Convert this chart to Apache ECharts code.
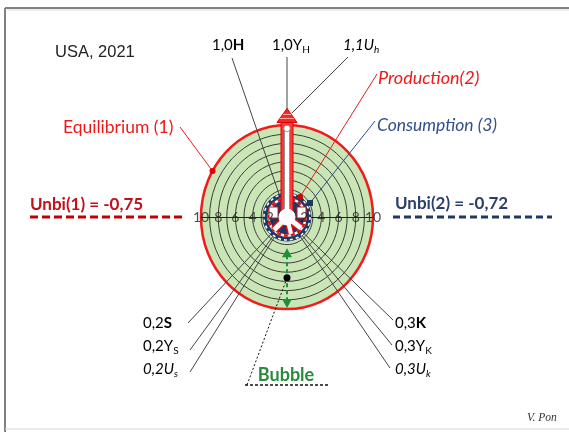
<!DOCTYPE html>
<html><head><meta charset="utf-8">
<script src="https://cdn.jsdelivr.net/npm/echarts@6/dist/echarts.min.js"></script>
<style>html,body{margin:0;padding:0;background:#fff}#c{width:569px;height:432px}</style>
</head><body><div id="c"></div>
<script>
// ---- data ----
const ringRadii = [1, 2, 3, 4, 5, 6, 7, 8, 9];
const equilibriumRadius = [10];
const axisTicks = [-10, -8, -6, -4, -2, 2, 4, 6, 8, 10];
const productionTip = [11.8];
const bubbleRange = [-3.4, -9.9];
const bubblePoint = [-6.6];
const equilibriumAngle = 150;
const unbiValues = ['-0,75', '-0,72'];
const title = 'USA, 2021';

const chart = echarts.init(document.getElementById('c'), null, {renderer: 'canvas'});
const LF = 'Lato, "Noto Sans", sans-serif';

function ell(r, api, style) {
  const c = api.coord([0, 0]);
  const s = api.size([r, r]);
  return {type: 'ellipse', shape: {cx: c[0], cy: c[1], rx: s[0], ry: s[1]}, style: style};
}

chart.setOption({
  animation: false,
  grid: {left: 201, top: 125, width: 172, height: 184},
  xAxis: {type: 'value', min: -10, max: 10, interval: 2, z: 1,
    axisLine: {show: true, onZero: true, lineStyle: {color: '#222', width: 1}},
    axisTick: {show: false}, axisLabel: {show: false}, splitLine: {show: false}},
  yAxis: {type: 'value', min: -10, max: 10, show: false, splitLine: {show: false}},
  series: [
    {type: 'custom', coordinateSystem: 'cartesian2d', z: 0, silent: true, clip: false,
      data: equilibriumRadius.map(r => [r, 0]),
      renderItem: (p, api) => ell(api.value(0), api, {fill: '#cbe6b6', stroke: '#f21a1a', lineWidth: 2.5})},
    {type: 'custom', coordinateSystem: 'cartesian2d', z: 0, silent: true, clip: false,
      data: ringRadii.map(r => [r, 0]),
      renderItem: (p, api) => ell(api.value(0), api, {fill: null, stroke: '#3b3b3b', lineWidth: 1})},
    // bubble arrow
    {type: 'custom', coordinateSystem: 'cartesian2d', z: 6, silent: true, clip: false,
      data: [[0, bubbleRange[0], bubbleRange[1], bubblePoint[0]]],
      renderItem: (p, api) => {
        const a = api.coord([0, api.value(1)]);
        const b = api.coord([0, api.value(2)]);
        const d = api.coord([0, api.value(3)]);
        const g = '#1f8f3a';
        return {type: 'group', children: [
          {type: 'line', shape: {x1: a[0], y1: a[1] + 7, x2: b[0], y2: b[1] - 7}, style: {stroke: g, lineWidth: 2, lineDash: [4, 3]}},
          {type: 'polygon', shape: {points: [[a[0], a[1]], [a[0] - 5, a[1] + 9], [a[0] + 5, a[1] + 9]]}, style: {fill: g}},
          {type: 'polygon', shape: {points: [[b[0], b[1]], [b[0] - 5, b[1] - 9], [b[0] + 5, b[1] - 9]]}, style: {fill: g}},
          {type: 'circle', shape: {cx: d[0], cy: d[1], r: 3.5}, style: {fill: '#000'}}
        ]};
      }},
    // production arrow
    {type: 'custom', coordinateSystem: 'cartesian2d', z: 12, silent: true, clip: false,
      data: productionTip.map(v => [0, v]),
      renderItem: (p, api) => {
        const c = api.coord([0, 0]);
        const t = api.coord([0, api.value(1)]);
        const base = t[1] + 14;
        return {type: 'group', children: [
          {type: 'rect', shape: {x: c[0] - 6, y: base, width: 12, height: c[1] - base}, style: {fill: '#f23c3c', stroke: '#e00000', lineWidth: 1}},
          {type: 'polygon', shape: {points: [[c[0] - 10, base], [c[0] + 10, base], [c[0], t[1]]]}, style: {fill: '#f02828', stroke: '#e00000', lineWidth: 1}},
          {type: 'line', shape: {x1: c[0] - 7, y1: base - 4, x2: c[0] + 7, y2: base - 4}, style: {stroke: '#ffb0b0', lineWidth: 1}},
          {type: 'line', shape: {x1: c[0] - 4, y1: base - 8, x2: c[0] + 4, y2: base - 8}, style: {stroke: '#ffb0b0', lineWidth: 1}},
          {type: 'rect', shape: {x: c[0] - 2.5, y: base + 6, width: 5, height: c[1] - base - 6}, style: {fill: '#fff', stroke: '#888', lineWidth: 0.8}},
          {type: 'circle', shape: {cx: c[0], cy: base + 6, r: 3.2}, style: {fill: '#fff', stroke: '#888', lineWidth: 0.8}},
          {type: 'circle', shape: {cx: c[0], cy: c[1], r: 8}, style: {fill: '#fff', stroke: '#fff'}}
        ]};
      }},
    // tick labels
    {type: 'scatter', z: 20, silent: true, symbolSize: 0,
      data: axisTicks.map(v => [v, 0]),
      label: {show: true, position: 'inside', formatter: p => String(Math.abs(p.value[0])),
        fontSize: 14, fontFamily: LF, color: '#222'}}
  ]
});

const c = chart.convertToPixel({gridIndex: 0}, [0, 0]);
const cx = c[0], cy = c[1];
const eq = chart.convertToPixel({gridIndex: 0}, [10 * Math.cos(equilibriumAngle * Math.PI / 180), 10 * Math.sin(equilibriumAngle * Math.PI / 180)]);

const rich = {
  n: {fontSize: 15, fontFamily: LF, color: '#222', lineHeight: 20},
  b: {fontSize: 15, fontFamily: LF, color: '#222', fontWeight: 'bold', lineHeight: 20},
  i: {fontSize: 15, fontFamily: LF, color: '#222', fontStyle: 'italic', lineHeight: 20},
  s: {fontSize: 10, fontFamily: LF, color: '#222', verticalAlign: 'bottom', lineHeight: 10},
  si: {fontSize: 10, fontFamily: LF, color: '#222', fontStyle: 'italic', verticalAlign: 'bottom', lineHeight: 10}
};
function rt(x, y, text, align) {
  return {type: 'text', x: x, y: y, z: 30, silent: true,
    style: {text: text, rich: rich, align: align || 'left', verticalAlign: 'middle'}};
}
function tx(x, y, text, st) {
  return {type: 'text', x: x, y: y, z: 30, silent: true,
    style: Object.assign({text: text, fontFamily: LF, fontSize: 15, fill: '#222', verticalAlign: 'middle', align: 'left'}, st)};
}
function ln(x1, y1, x2, y2, st, z) {
  return {type: 'line', z: z || 5, silent: true, shape: {x1, y1, x2, y2},
    style: Object.assign({stroke: '#444', lineWidth: 1}, st)};
}
const navy = '#1f3864';
const gfx = [
  // frame
  ln(5, 8, 569, 8, {stroke: '#808080', lineWidth: 2}, 1),
  ln(5, 8, 5, 432, {stroke: '#808080', lineWidth: 2}, 1),
  ln(7, 10, 569, 10, {stroke: '#dddddd', lineWidth: 1}, 1),
  ln(5, 429, 569, 429, {stroke: '#d8d8d8', lineWidth: 1}, 1),
  // spokes
  ln(232, 58, cx, cy), ln(cx, 57, cx, cy), ln(348, 57, cx + 5, 113),
  ln(188, 323, cx, cy), ln(190, 350, cx, cy), ln(190, 372, cx, cy),
  ln(393, 320, cx, cy), ln(392, 345, cx, cy), ln(390, 368, cx, cy),
  // unbi dashed lines
  ln(30, cy, 186, cy, {stroke: '#c00000', lineWidth: 3, lineDash: [8, 4]}),
  ln(393, cy, 552, cy, {stroke: navy, lineWidth: 3, lineDash: [7, 4]}),
  // equilibrium leader
  ln(180, 127, eq[0], eq[1], {stroke: '#f21a1a', lineWidth: 1}, 7),
  {type: 'circle', z: 7, shape: {cx: eq[0], cy: eq[1], r: 3}, style: {fill: '#e00000'}},
  // center decoration
  {type: 'circle', z: 10, shape: {cx, cy, r: 24}, style: {fill: navy, stroke: navy, lineWidth: 1}},
  {type: 'circle', z: 10, shape: {cx, cy, r: 23}, style: {fill: null, stroke: '#fff', lineWidth: 1.5, lineDash: [3, 3]}},
  {type: 'circle', z: 10, shape: {cx, cy, r: 18.5}, style: {fill: null, stroke: '#fff', lineWidth: 2.5}},
  {type: 'circle', z: 10, shape: {cx, cy, r: 18.5}, style: {fill: null, stroke: '#e01010', lineWidth: 2.5, lineDash: [4, 3]}},
  ln(cx, cy, cx - 13, cy + 13, {stroke: '#e01010', lineWidth: 8}, 10),
  ln(cx, cy, cx + 14, cy + 11, {stroke: '#e01010', lineWidth: 8}, 10),
  ln(cx, cy, cx + 4, cy + 17, {stroke: '#e01010', lineWidth: 7}, 10),
  ln(cx, cy, cx - 13, cy + 13, {stroke: '#fff', lineWidth: 5}, 11),
  ln(cx, cy, cx + 14, cy + 11, {stroke: '#fff', lineWidth: 5}, 11),
  ln(cx, cy, cx + 4, cy + 17, {stroke: '#fff', lineWidth: 4}, 11),
  {type: 'rect', z: 11, shape: {x: cx - 18, y: cy - 10, width: 9, height: 11}, style: {fill: '#fff', stroke: '#e01010', lineWidth: 1}},
  {type: 'rect', z: 11, shape: {x: cx + 10, y: cy - 10, width: 9, height: 11}, style: {fill: '#fff', stroke: '#e01010', lineWidth: 1}},
  // production / consumption leaders
  ln(377, 74, cx + 13, cy - 20, {stroke: '#e02020', lineWidth: 1}, 14),
  {type: 'circle', z: 14, shape: {cx: cx + 13, cy: cy - 20, r: 3}, style: {fill: '#d00000'}},
  ln(375, 121, cx + 23, cy - 14, {stroke: '#2f4f8f', lineWidth: 1}, 14),
  {type: 'rect', z: 14, shape: {x: cx + 20, y: cy - 17, width: 6, height: 6}, style: {fill: navy}},
  // bubble leader
  ln(cx, 278, 247, 385, {stroke: '#111', lineWidth: 1, lineDash: [2, 2]}),
  ln(245, 385, 328, 385, {stroke: '#111', lineWidth: 1.5, lineDash: [3, 2]}),
  // texts
  tx(55, 52, title, {fontFamily: '"Liberation Sans", Arial, sans-serif', fontSize: 16.5}),
  rt(212, 45, '{n|1,0}{b|H}'),
  rt(272, 45, '{n|1,0Y}{s|H}'),
  rt(343, 45, '{i|1,1U}{si|h}'),
  rt(143, 323, '{n|0,2}{b|S}'),
  rt(143, 346, '{n|0,2Y}{s|S}'),
  rt(143, 369, '{i|0,2U}{si|s}'),
  rt(395, 323, '{n|0,3}{b|K}'),
  rt(395, 346, '{n|0,3Y}{s|K}'),
  rt(395, 369, '{i|0,3U}{si|k}'),
  tx(63, 127, 'Equilibrium (1)', {fill: '#f01818', fontSize: 17.5}),
  tx(378, 78, 'Production(2)', {fill: '#f01818', fontStyle: 'italic', fontSize: 18}),
  tx(377, 125, 'Consumption (3)', {fill: '#2f4f8f', fontStyle: 'italic', fontSize: 17.5}),
  tx(30, 205, 'Unbi(1) = ' + unbiValues[0], {fill: '#c0101a', fontWeight: 'bold', fontSize: 17}),
  tx(395, 204, 'Unbi(2) = ' + unbiValues[1], {fill: '#2b3f6b', fontWeight: 'bold', fontSize: 17}),
  tx(286, 375, 'Bubble', {fill: '#2a8a3c', fontWeight: 'bold', align: 'center', fontSize: 18}),
  tx(527, 418, 'V. Pon', {fontFamily: '"Liberation Serif", "DejaVu Serif", serif', fontStyle: 'italic', fontSize: 11.5, fill: '#333'})
];
chart.setOption({graphic: {elements: gfx}});
</script>
</body></html>
